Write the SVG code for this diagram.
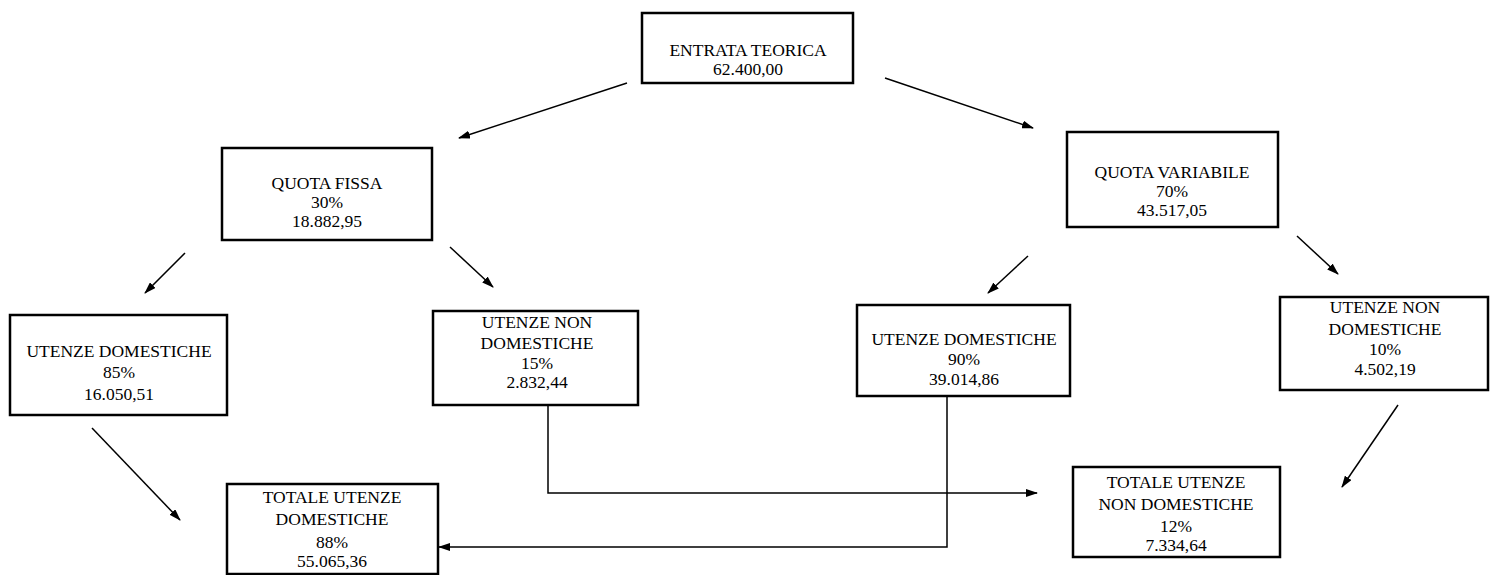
<svg xmlns="http://www.w3.org/2000/svg" width="1490" height="575" viewBox="0 0 1490 575">
<defs>
<marker id="ah" viewBox="0 0 12 8" refX="11" refY="4" markerWidth="12" markerHeight="8" markerUnits="userSpaceOnUse" orient="auto">
<path d="M0,0 L12,4 L0,8 Z" fill="#000"/>
</marker>
<style>
.box{fill:#fff;stroke:#000;stroke-width:2.5}
.t{font-family:"Liberation Serif","Times New Roman",serif;font-size:17.5px;fill:#000;text-anchor:middle}
.c{fill:none;stroke:#000;stroke-width:1.5}
.a{marker-end:url(#ah)}
</style>
</defs>
<rect width="1490" height="575" fill="#fff"/>
<g id="entrata">
<rect class="box" x="642" y="13" width="211" height="70"/>
<text class="t" x="748" y="56">ENTRATA TEORICA</text>
<text class="t" x="748" y="75">62.400,00</text>
</g>
<g id="quota-fissa">
<rect class="box" x="222" y="148" width="210" height="92"/>
<text class="t" x="327" y="189">QUOTA FISSA</text>
<text class="t" x="327" y="208">30%</text>
<text class="t" x="327" y="227">18.882,95</text>
</g>
<g id="quota-variabile">
<rect class="box" x="1067" y="132" width="211" height="95"/>
<text class="t" x="1172" y="178">QUOTA VARIABILE</text>
<text class="t" x="1172" y="197">70%</text>
<text class="t" x="1172" y="216">43.517,05</text>
</g>
<g id="ud-fissa">
<rect class="box" x="10" y="315" width="217" height="100"/>
<text class="t" x="119" y="357">UTENZE DOMESTICHE</text>
<text class="t" x="119" y="378">85%</text>
<text class="t" x="119" y="400">16.050,51</text>
</g>
<g id="und-fissa">
<rect class="box" x="433" y="311" width="205" height="94"/>
<text class="t" x="537" y="328">UTENZE NON</text>
<text class="t" x="537" y="349">DOMESTICHE</text>
<text class="t" x="537" y="369">15%</text>
<text class="t" x="537" y="388">2.832,44</text>
</g>
<g id="ud-variabile">
<rect class="box" x="857" y="305" width="213" height="91"/>
<text class="t" x="964" y="345">UTENZE DOMESTICHE</text>
<text class="t" x="964" y="365">90%</text>
<text class="t" x="964" y="385">39.014,86</text>
</g>
<g id="und-variabile">
<rect class="box" x="1280" y="297" width="208" height="93"/>
<text class="t" x="1385" y="313">UTENZE NON</text>
<text class="t" x="1385" y="335">DOMESTICHE</text>
<text class="t" x="1385" y="355">10%</text>
<text class="t" x="1385" y="375">4.502,19</text>
</g>
<g id="totale-domestiche">
<rect class="box" x="227" y="484" width="211" height="90"/>
<text class="t" x="332" y="503">TOTALE UTENZE</text>
<text class="t" x="332" y="525">DOMESTICHE</text>
<text class="t" x="332" y="548">88%</text>
<text class="t" x="332" y="567">55.065,36</text>
</g>
<g id="totale-non-domestiche">
<rect class="box" x="1073" y="467" width="207" height="90"/>
<text class="t" x="1176" y="488">TOTALE UTENZE</text>
<text class="t" x="1176" y="510">NON DOMESTICHE</text>
<text class="t" x="1176" y="532">12%</text>
<text class="t" x="1176" y="551">7.334,64</text>
</g>
<g id="connectors">
<line class="c a" x1="627" y1="83" x2="459" y2="138"/>
<line class="c a" x1="885" y1="78" x2="1033" y2="128"/>
<line class="c a" x1="185" y1="253" x2="145" y2="293"/>
<line class="c a" x1="450" y1="247" x2="493" y2="287"/>
<line class="c a" x1="1028" y1="256" x2="988" y2="293"/>
<line class="c a" x1="1297" y1="236" x2="1338" y2="274"/>
<line class="c a" x1="92" y1="428" x2="180" y2="520"/>
<line class="c a" x1="1398" y1="405" x2="1342" y2="487"/>
<polyline class="c a" points="548,405 548,493 1037,493"/>
<polyline class="c a" points="947,396 947,547 439,547"/>
</g>
</svg>
